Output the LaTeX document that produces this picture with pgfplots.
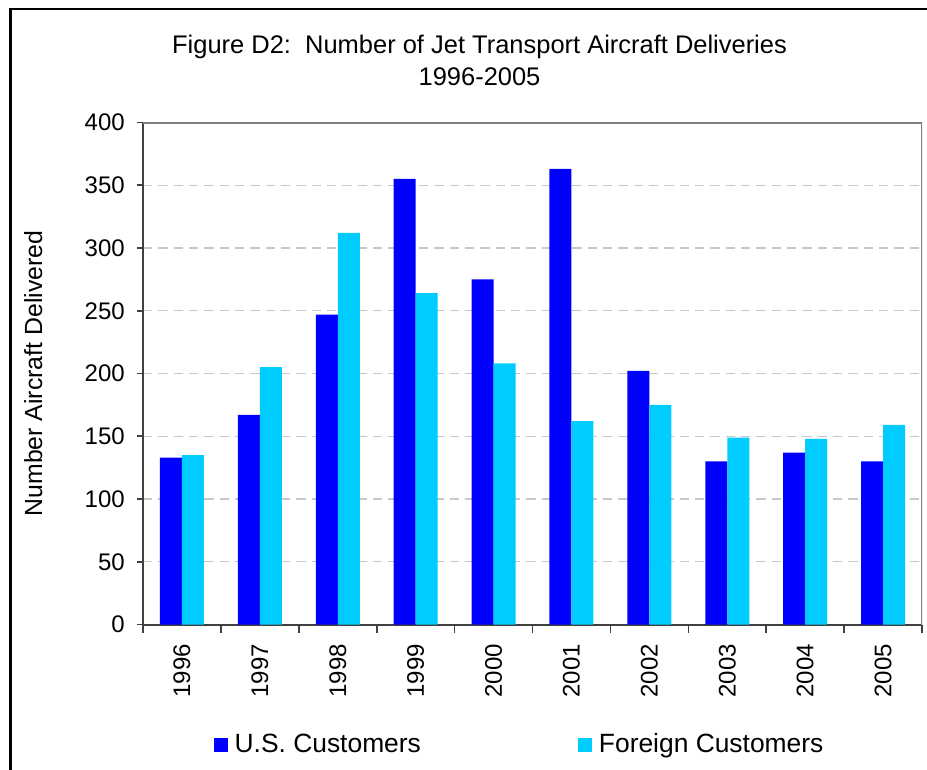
\documentclass[border=0pt]{standalone}
\usepackage{pgfplots}
\pgfplotsset{compat=1.18}
\usepackage{fontspec}
\setmainfont{Liberation Sans}
\definecolor{usblue}{HTML}{0000FF}
\definecolor{fgblue}{HTML}{00CCFF}
\definecolor{gridgray}{HTML}{C8C8C8}
\definecolor{axdark}{HTML}{404040}
\definecolor{axgray}{HTML}{808080}
\newcommand{\cf}{\fontsize{18}{22}\selectfont}
\begin{document}
\cf
\begin{tikzpicture}
\useasboundingbox (0,0) rectangle (695.25pt,576.75pt);
\draw[black,line width=1.9pt] (7.9pt,-1pt) -- (7.9pt,570pt) -- (697pt,570pt);
\begin{axis}[
  at={(107.25pt,108.375pt)}, anchor=south west,
  scale only axis, width=584.25pt, height=376.5pt,
  xmin=-0.5, xmax=9.5, ymin=0, ymax=400,
  ybar=0pt, bar width=16.5pt,
  axis x line*=bottom, axis y line*=left,
  axis line style={axdark, line width=1.5pt},
  tick align=outside,
  ytick={0,50,...,400},
  xtick={0,...,9},
  xticklabels={1996,1997,1998,1999,2000,2001,2002,2003,2004,2005},
  minor xtick={-0.5,0.5,...,9.5},
  major x tick style={draw=none},
  minor x tick style={axdark, line width=1.2pt},
  y tick style={axdark, line width=1.2pt},
  major tick length=4.5pt, minor tick length=6pt,
  ymajorgrids,
  grid style={gridgray, line width=1.1pt, dash pattern=on 7pt off 4.5pt},
  /pgf/number format/assume math mode=true,
  tick label style={font=\cf},
  yticklabel style={xshift=-3pt},
  xticklabel style={yshift=-4pt, rotate=90, anchor=east},
  ylabel={Number Aircraft Delivered},
  ylabel style={font=\fontsize{18.6}{22}\selectfont, at={(axis description cs:-0.141,0.5)}, anchor=center},
  title={Figure D2:\ \ Number of Jet Transport Aircraft Deliveries\\1996-2005},
  title style={font=\fontsize{19.1}{24}\selectfont, align=center, at={(axis description cs:0.432,1.1085)}, anchor=center},
  legend columns=2,
  legend style={font=\fontsize{19.8}{22}\selectfont, draw=none, fill=none, at={(axis description cs:0.484,-0.24)}, anchor=center,
    /tikz/every even column/.append style={column sep=116pt}},
  legend image code/.code={\fill[#1] (0pt,-5.5pt) rectangle (10.5pt,5.5pt); \path (13.5pt,0pt);},
]
\addplot[fill=usblue, draw=none] coordinates {(0,133) (1,167) (2,247) (3,355) (4,275) (5,363) (6,202) (7,130) (8,137) (9,130)};
\addplot[fill=fgblue, draw=none] coordinates {(0,135) (1,205) (2,312) (3,264) (4,208) (5,162) (6,175) (7,149) (8,148) (9,159)};
\legend{U.S. Customers, Foreign Customers}
\draw[axgray, line width=1.5pt] (rel axis cs:0,1) -- (rel axis cs:1,1) -- (rel axis cs:1,0);
\end{axis}
\end{tikzpicture}
\end{document}
